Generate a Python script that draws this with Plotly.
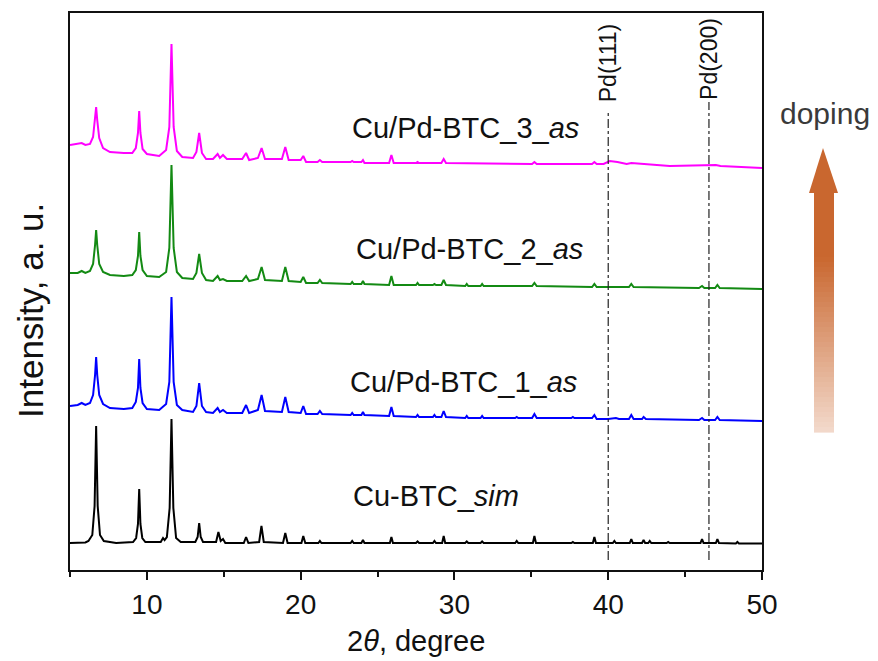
import plotly.graph_objects as go

# ---------------- data (intensity in a.u., stacked) ----------------
sim_xy = [
    [5.0, 27], [5.8, 27.5], [6.0, 27.5], [6.2, 29], [6.45, 35], [6.6, 64], [6.7, 144], [6.8, 64], [6.95, 35], [7.2, 29],
    [8.0, 27], [9.1, 28], [9.3, 32], [9.42, 46], [9.5, 81], [9.58, 46], [9.7, 32], [9.9, 28],
    [10.9, 28], [11.05, 32], [11.15, 30], [11.3, 33], [11.48, 62], [11.6, 151], [11.72, 62], [11.9, 32], [12.2, 28],
    [13.15, 28], [13.3, 33], [13.4, 47], [13.5, 33], [13.65, 28],
    [14.5, 28], [14.65, 38], [14.8, 29], [14.95, 31], [15.1, 27],
    [16.3, 27], [16.45, 33], [16.6, 27], [17.3, 28], [17.45, 44], [17.6, 28],
    [18.85, 27], [19.0, 37], [19.15, 27], [20.05, 27], [20.17, 34], [20.3, 27],
    [21.15, 27], [21.25, 29], [21.35, 27], [23.25, 27], [23.35, 29], [23.45, 27],
    [23.95, 27], [24.05, 30], [24.15, 27], [25.8, 27], [25.9, 33], [26.0, 27],
    [27.5, 27], [27.6, 28.5], [27.7, 27], [28.6, 27], [28.7, 29], [28.8, 27],
    [29.2, 27], [29.3, 34], [29.4, 27], [30.7, 27], [30.8, 28.5], [30.9, 27],
    [31.7, 27], [31.8, 28.5], [31.9, 27], [33.95, 27], [34.05, 29], [34.15, 27],
    [35.1, 27], [35.2, 34], [35.3, 27], [37.6, 27], [37.7, 28], [37.8, 27],
    [39.0, 27], [39.1, 33], [39.2, 27], [40.3, 27], [40.4, 29], [40.5, 27],
    [41.4, 27], [41.5, 31], [41.6, 27], [42.2, 27], [42.3, 30], [42.4, 27],
    [42.6, 27], [42.7, 29], [42.8, 27], [43.8, 27], [43.9, 28], [44.0, 27],
    [46.0, 27], [46.1, 31], [46.2, 27], [47.0, 27], [47.1, 31], [47.2, 27],
    [48.3, 26.5], [48.4, 28], [48.5, 26.5], [50.0, 26.5],
]

as1_xy = [
    [5.0, 164], [5.5, 165], [5.76, 167], [6.0, 165], [6.3, 167], [6.5, 175], [6.63, 195], [6.7, 213], [6.77, 195],
    [6.9, 175], [7.15, 166], [7.6, 162], [8.5, 161], [9.05, 162], [9.28, 168], [9.42, 182], [9.5, 211], [9.58, 182],
    [9.72, 167], [10.0, 161], [10.8, 160], [11.25, 166], [11.46, 188], [11.6, 273], [11.74, 188], [11.95, 165],
    [12.3, 160], [13.0, 158], [13.22, 164], [13.4, 187], [13.58, 164], [13.85, 158], [14.3, 157], [14.6, 162],
    [14.75, 158], [14.95, 160], [15.2, 157], [16.2, 157], [16.45, 165], [16.65, 157], [17.22, 160], [17.46, 175],
    [17.68, 159], [18.78, 158], [19.0, 173], [19.22, 158], [20.0, 157], [20.17, 164], [20.35, 156], [21.1, 156],
    [21.25, 159], [21.4, 156], [23.25, 155], [23.35, 157], [23.45, 155], [23.95, 155], [24.05, 158], [24.15, 155],
    [25.75, 154], [25.9, 163], [26.05, 154], [27.5, 153], [27.6, 155], [27.7, 153], [28.6, 153], [28.7, 155],
    [28.8, 153], [29.15, 153], [29.3, 159], [29.45, 153], [30.7, 152], [30.8, 154], [30.9, 152], [31.7, 152],
    [31.8, 154], [31.9, 152], [33.95, 152], [34.05, 153], [34.15, 152], [35.05, 152], [35.2, 156], [35.35, 152],
    [37.6, 152], [37.7, 153], [37.8, 152], [38.95, 152], [39.1, 155], [39.25, 151], [40.0, 151], [40.5, 152],
    [40.7, 151], [41.35, 151], [41.5, 155], [41.65, 151], [42.2, 151], [42.3, 153], [42.45, 151], [45.9, 150],
    [46.1, 152], [46.25, 150], [46.95, 150], [47.1, 153], [47.25, 150], [50.0, 149],
]

as2_xy = [
    [5.0, 297], [5.5, 297], [5.76, 299], [6.0, 297], [6.3, 299], [6.5, 306], [6.63, 325], [6.7, 340], [6.77, 325],
    [6.9, 306], [7.15, 298], [7.6, 295], [8.5, 294], [9.05, 295], [9.28, 300], [9.42, 314], [9.5, 338], [9.58, 314],
    [9.72, 300], [10.0, 294], [10.8, 293], [11.25, 298], [11.46, 322], [11.6, 405], [11.74, 322], [11.95, 298],
    [12.3, 292], [13.0, 291], [13.22, 297], [13.4, 316], [13.58, 297], [13.85, 290], [14.3, 289], [14.6, 294],
    [14.75, 290], [14.95, 291], [15.2, 289], [16.2, 289], [16.45, 294], [16.65, 289], [17.22, 291], [17.46, 303],
    [17.68, 290], [18.78, 289], [19.0, 303], [19.22, 289], [20.0, 288], [20.17, 293], [20.35, 287], [21.1, 287],
    [21.25, 290], [21.4, 287], [23.25, 286], [23.35, 288], [23.45, 286], [23.95, 286], [24.05, 289], [24.15, 286],
    [25.75, 285], [25.9, 294], [26.05, 285], [27.5, 285], [27.6, 287], [27.7, 285], [28.6, 285], [28.7, 286],
    [28.8, 285], [29.15, 285], [29.3, 290], [29.45, 285], [30.7, 284], [30.8, 286], [30.9, 284], [31.7, 284],
    [31.8, 286], [31.9, 284], [35.05, 284], [35.2, 287], [35.35, 284], [38.95, 283], [39.1, 286], [39.25, 283],
    [41.35, 283], [41.5, 286], [41.65, 283], [45.9, 282], [46.1, 284], [46.25, 282], [46.95, 282], [47.1, 285],
    [47.25, 282], [50.0, 281],
]

as3_xy = [
    [5.0, 425], [5.5, 426], [5.76, 427], [6.0, 425], [6.3, 426], [6.5, 433], [6.63, 450], [6.7, 463], [6.77, 450],
    [6.9, 432], [7.15, 422], [7.6, 418], [8.5, 417], [9.05, 417], [9.28, 422], [9.42, 437], [9.5, 459], [9.58, 437],
    [9.72, 421], [10.0, 416], [10.8, 414], [11.25, 420], [11.46, 443], [11.6, 526], [11.74, 443], [11.95, 419],
    [12.3, 413], [13.0, 412], [13.22, 418], [13.4, 437], [13.58, 417], [13.85, 411], [14.3, 411], [14.6, 416],
    [14.75, 412], [14.95, 415], [15.2, 411], [16.2, 411], [16.45, 417], [16.65, 410], [17.22, 412], [17.46, 422],
    [17.68, 411], [18.78, 411], [19.0, 423], [19.22, 410], [20.0, 410], [20.17, 414], [20.35, 408], [21.1, 408],
    [21.25, 410], [21.4, 408], [23.25, 408], [23.35, 409], [23.45, 408], [23.95, 408], [24.05, 410], [24.15, 407],
    [25.75, 407], [25.9, 415], [26.05, 407], [27.5, 407], [27.6, 408], [27.7, 407], [29.15, 407], [29.3, 411],
    [29.45, 407], [35.05, 406], [35.2, 408], [35.35, 406], [38.95, 406], [39.1, 408], [39.25, 406], [39.7, 406],
    [40.1, 409], [40.6, 408], [41.2, 406], [41.5, 407], [44.0, 404], [46.1, 405], [47.0, 405], [47.3, 404],
    [50.0, 402],
]

series_names = ["Cu-BTC_sim", "Cu/Pd-BTC_1_as", "Cu/Pd-BTC_2_as", "Cu/Pd-BTC_3_as"]
series_labels = ["Cu-BTC_<i>sim</i>", "Cu/Pd-BTC_1_<i>as</i>", "Cu/Pd-BTC_2_<i>as</i>", "Cu/Pd-BTC_3_<i>as</i>"]
series_data = [sim_xy, as1_xy, as2_xy, as3_xy]
label_x = [23.3, 23.1, 23.5, 23.2]
label_y = [74, 188, 321, 442]

pd_positions = [40.0, 46.55]
pd_labels = ["Pd(111)", "Pd(200)"]

x_ticks = [10, 20, 30, 40, 50]

# ---------------- style ----------------
colors = ["#000000", "#0000FF", "#138A13", "#FF00FF"]
W, H = 878, 661
ML, MR, MT, MB = 70, 116, 13, 91
PW, PH = W - ML - MR, H - MT - MB
YMAX = 557
LABEL_FONT = "Arial, Liberation Sans, sans-serif"


def px(xp):
    return (xp - ML) / PW


def py(yp):
    return (H - MB - yp) / PH


fig = go.Figure()
for name, xy, col in zip(series_names, series_data, colors):
    fig.add_trace(go.Scatter(
        x=[p[0] for p in xy], y=[p[1] for p in xy], mode="lines", name=name,
        line=dict(color=col, width=2), showlegend=False,
    ))

annotations = []
for lab, lx, ly in zip(series_labels, label_x, label_y):
    annotations.append(dict(x=lx, y=ly, xref="x", yref="y", text=lab, showarrow=False,
                            xanchor="left", yanchor="middle",
                            font=dict(family=LABEL_FONT, size=29, color="#111111")))

shapes = []
for pos, lab, y1, ytxt in zip(pd_positions, pd_labels, [460, 468], [466, 468]):
    shapes.append(dict(type="line", xref="x", yref="y", x0=pos, x1=pos, y0=10, y1=y1,
                       line=dict(color="#222222", width=1.2, dash="dashdot")))
    annotations.append(dict(x=pos, y=ytxt, xref="x", yref="y", text=lab, showarrow=False,
                            textangle=-90, xanchor="center", yanchor="bottom",
                            font=dict(family=LABEL_FONT, size=23, color="#111111")))

# axis titles
annotations.append(dict(x=px(30), y=py(311), xref="paper", yref="paper", text="Intensity, a. u.",
                        showarrow=False, textangle=-90, xanchor="center", yanchor="middle",
                        font=dict(family=LABEL_FONT, size=35, color="#111111")))
annotations.append(dict(x=px(416), y=py(641), xref="paper", yref="paper", text="2<i>θ</i>, degree",
                        showarrow=False, xanchor="center", yanchor="middle",
                        font=dict(family=LABEL_FONT, size=29, color="#111111")))
# doping arrow label
annotations.append(dict(x=px(825), y=py(113), xref="paper", yref="paper", text="doping",
                        showarrow=False, xanchor="center", yanchor="middle",
                        font=dict(family=LABEL_FONT, size=30, color="#3a3a3a")))

# arrow: head + gradient shaft
shapes.append(dict(type="path", xref="paper", yref="paper",
                   path=f"M {px(823)} {py(148)} L {px(838)} {py(193)} L {px(809)} {py(193)} Z",
                   fillcolor="rgb(201,103,47)", line=dict(width=0)))
shapes.append(dict(type="rect", xref="paper", yref="paper", x0=px(814), x1=px(834), y0=py(257), y1=py(192),
                   fillcolor="rgb(201,103,47)", line=dict(width=0)))
c0, c1 = (201, 103, 47), (243, 218, 204)
n = 35
top, bot = 257, 432
for i in range(n):
    t = (i + 0.5) / n
    c = tuple(round(a + (b - a) * t) for a, b in zip(c0, c1))
    ya = top + (bot - top) * i / n
    yb = top + (bot - top) * (i + 1) / n + 0.6
    shapes.append(dict(type="rect", xref="paper", yref="paper", x0=px(814), x1=px(834),
                       y0=py(yb), y1=py(ya), fillcolor=f"rgb{c}", line=dict(width=0)))

fig.update_layout(
    width=W, height=H, margin=dict(l=ML, r=MR, t=MT, b=MB),
    paper_bgcolor="white", plot_bgcolor="white", showlegend=False,
    annotations=annotations, shapes=shapes,
    xaxis=dict(range=[5, 50], tickvals=x_ticks, ticks="outside", ticklen=8, tickwidth=1.5,
               tickcolor="#111111", showline=True, linecolor="#111111", linewidth=1.8, mirror=True,
               showgrid=False, zeroline=False,
               tickfont=dict(family=LABEL_FONT, size=28, color="#111111"),
               minor=dict(dtick=5, tick0=0, ticks="outside", ticklen=5, tickwidth=1.5,
                          tickcolor="#111111", showgrid=False)),
    yaxis=dict(range=[0, YMAX], showticklabels=False, ticks="", showline=True, linecolor="#111111",
               linewidth=1.8, mirror=True, showgrid=False, zeroline=False),
)

fig.write_html("out.html")
